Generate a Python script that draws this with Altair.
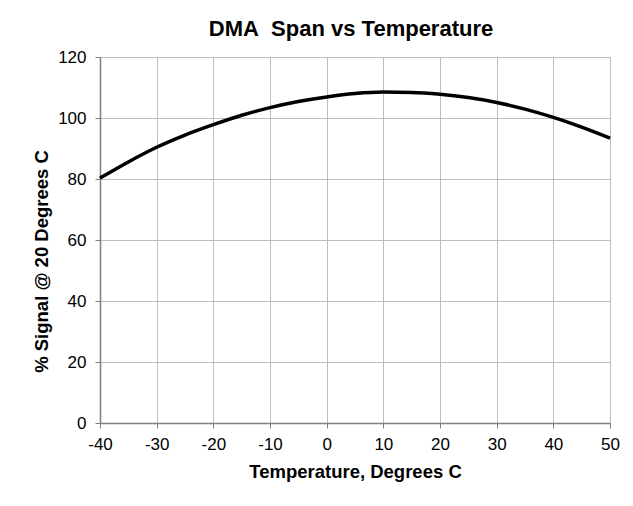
import altair as alt
import pandas as pd

temperature = [-40, -35, -30, -25, -20, -15, -10, -5, 0, 5, 10, 15, 20, 25, 30, 35, 40, 45, 50]
signal_pct = [80.3, 85.6, 90.4, 94.4, 97.8, 100.9, 103.4, 105.4, 106.9, 108.0, 108.5,
              108.4, 107.8, 106.7, 105.1, 102.9, 100.2, 97.0, 93.4]
x_ticks = [-40, -30, -20, -10, 0, 10, 20, 30, 40, 50]
y_ticks = [0, 20, 40, 60, 80, 100, 120]

df = pd.DataFrame({"temp": temperature, "signal": signal_pct})

FONT = "Liberation Sans"

line = alt.Chart(df).mark_line(color="#000000", strokeWidth=3.5, interpolate="monotone").encode(
    x=alt.X("temp:Q",
            scale=alt.Scale(domain=[-40, 50], nice=False, zero=False),
            axis=alt.Axis(values=x_ticks, title="Temperature, Degrees C",
                          labelExpr="'' + datum.value", labelFlush=False,
                          labelOverlap=False,
                          titlePadding=10, labelPadding=8)),
    y=alt.Y("signal:Q",
            scale=alt.Scale(domain=[0, 120], nice=False),
            axis=alt.Axis(values=y_ticks, title="% Signal @ 20 Degrees C",
                          labelExpr="'' + datum.value", labelFlush=False,
                          titleY=204,
                          titlePadding=6, labelPadding=9)),
)

chart = line.properties(
    width=510,
    height=366,
    title=alt.TitleParams("DMA\u00a0 Span vs Temperature", fontSize=22, font=FONT,
                          fontWeight="bold", color="#000000", anchor="middle",
                          offset=7, dx=-4),
    autosize=alt.AutoSizeParams(type="none"),
    padding={"left": 92, "top": 49, "right": 15, "bottom": 75},
).configure_view(
    stroke="#a6a6a6", strokeWidth=1
).configure_axis(
    labelFont=FONT, labelFontSize=17, labelColor="#000000",
    titleFont=FONT, titleFontSize=18.5, titleFontWeight="bold", titleColor="#000000",
    domainColor="#7f7f7f", domainWidth=1.5,
    tickColor="#7f7f7f", tickSize=5, tickWidth=1,
    gridColor="#bdbdbd", gridWidth=1,
)

chart.save("out.html", embed_options={"renderer": "svg", "actions": False})
